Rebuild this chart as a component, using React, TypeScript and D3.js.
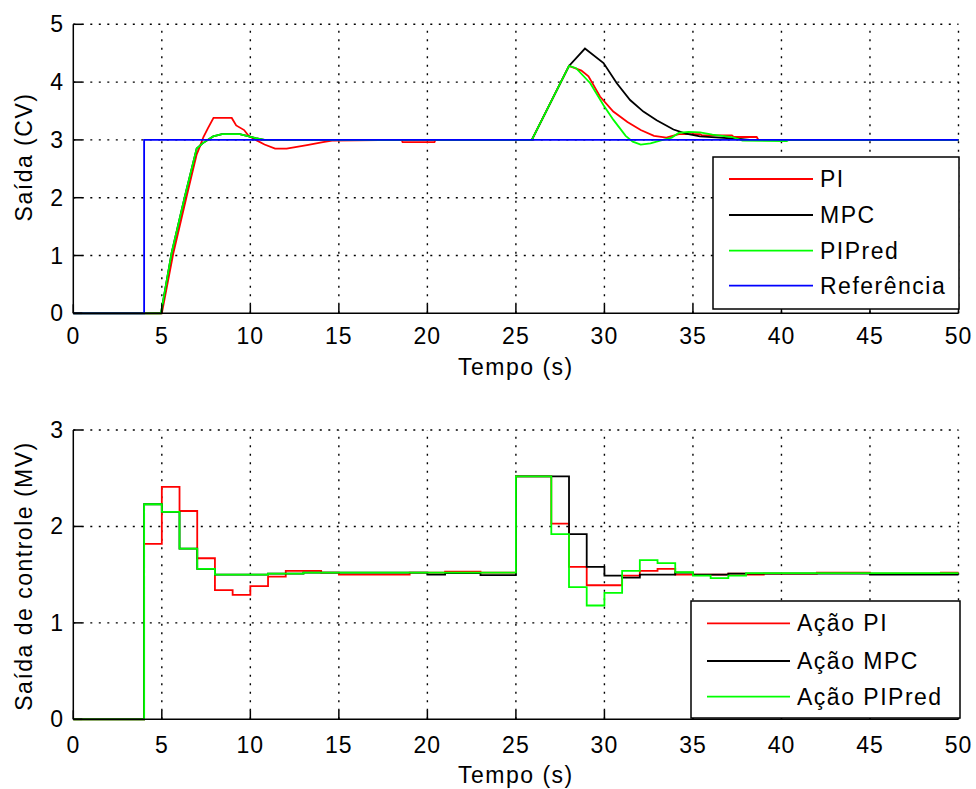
import React from "react";
import * as d3 from "d3";

// ---- Saída (CV): continuous responses ----
const piTime = [0, 5.0, 5.65, 6.4, 6.97, 7.17, 7.35, 7.6, 7.92, 8.95, 9.2, 9.65, 9.9, 10.3, 10.8, 11.4, 12.05, 13.2, 14.1, 14.7, 18.55, 18.6, 20.4, 20.45, 25.9, 28.0, 28.7, 29.1, 29.75, 30.5, 31.3, 32.05, 32.8, 33.5, 34.2, 35.4, 35.5, 37.2, 37.3, 38.6, 38.7, 50];
const piValue = [0, 0, 1.04, 2.02, 2.75, 2.9, 3.05, 3.2, 3.38, 3.38, 3.25, 3.17, 3.07, 3.0, 2.92, 2.85, 2.85, 2.91, 2.96, 2.99, 3.0, 2.96, 2.96, 3.0, 3.0, 4.28, 4.2, 4.1, 3.75, 3.49, 3.31, 3.17, 3.07, 3.04, 3.1, 3.1, 3.08, 3.08, 3.05, 3.05, 3.0, 3.0];

const mpcTime = [0, 4.95, 5.55, 6.3, 6.97, 7.3, 7.9, 8.4, 9.4, 9.8, 10.3, 10.8, 25.9, 28.0, 28.9, 29.95, 30.7, 31.45, 32.2, 32.95, 33.9, 34.6, 35.4, 36.5, 37.5, 38.2, 50];
const mpcValue = [0, 0, 1.04, 2.02, 2.85, 2.94, 3.06, 3.1, 3.1, 3.07, 3.03, 3.0, 3.0, 4.28, 4.58, 4.33, 3.98, 3.69, 3.49, 3.34, 3.18, 3.11, 3.06, 3.04, 3.02, 3.0, 3.0];

const predTime = [0, 4.95, 5.55, 6.3, 6.97, 7.3, 7.9, 8.4, 9.4, 9.8, 10.3, 10.8, 25.9, 28.0, 28.4, 29.2, 29.95, 30.5, 31.2, 31.6, 32.05, 32.6, 33.2, 33.8, 34.2, 34.75, 35.4, 36.1, 37.2, 37.8, 40.3, 40.4, 50];
const predValue = [0, 0, 1.04, 2.02, 2.85, 2.94, 3.06, 3.1, 3.1, 3.07, 3.03, 3.0, 3.0, 4.28, 4.24, 3.98, 3.6, 3.35, 3.07, 2.97, 2.92, 2.94, 2.99, 3.04, 3.12, 3.14, 3.13, 3.09, 3.05, 2.99, 2.98, 3.0, 3.0];

const refTime = [0, 4, 4, 50];
const refValue = [0, 0, 3, 3];

// ---- Saída de controle (MV): sampled control actions (held between samples) ----
const piMvTime = [0, 4, 5, 6, 7, 8, 9, 10, 11, 12, 14, 15, 19, 21, 23, 25, 27, 28, 29, 31, 32, 33, 34, 37, 38, 39, 42, 45, 49, 50];
const piMvValue = [0, 1.82, 2.41, 2.16, 1.67, 1.34, 1.29, 1.38, 1.48, 1.54, 1.52, 1.5, 1.52, 1.53, 1.52, 2.52, 2.03, 1.58, 1.39, 1.49, 1.54, 1.56, 1.5, 1.51, 1.5, 1.51, 1.52, 1.51, 1.52, 1.52];

const mpcMvTime = [0, 4, 5, 6, 7, 8, 11, 13, 20, 21, 23, 25, 28, 29, 30, 31, 32, 34, 35, 37, 45, 50];
const mpcMvValue = [0, 2.23, 2.15, 1.77, 1.56, 1.5, 1.51, 1.52, 1.5, 1.515, 1.495, 2.52, 1.92, 1.58, 1.49, 1.47, 1.5, 1.52, 1.5, 1.51, 1.5, 1.5];

const predMvTime = [0, 4, 5, 6, 7, 8, 11, 13, 25, 27, 28, 29, 30, 31, 32, 33, 34, 35, 36, 37, 38, 50];
const predMvValue = [0, 2.23, 2.15, 1.77, 1.56, 1.5, 1.51, 1.52, 2.52, 1.92, 1.37, 1.18, 1.31, 1.54, 1.65, 1.62, 1.525, 1.49, 1.465, 1.49, 1.515, 1.515];

const xTicks = [0, 5, 10, 15, 20, 25, 30, 35, 40, 45, 50];
const cvTicks = [0, 1, 2, 3, 4, 5];
const mvTicks = [0, 1, 2, 3];

const cvLegend = ["PI", "MPC", "PIPred", "Referência"];
const mvLegend = ["Ação PI", "Ação MPC", "Ação PIPred"];

const RED = "#ff0000";
const BLACK = "#000000";
const GREEN = "#00ff00";
const BLUE = "#0000ff";
const FONT = "'Liberation Sans', Arial, sans-serif";

const zip = (t: number[], v: number[]) => t.map((x, i) => [x, v[i]] as [number, number]);

const X0 = 73.3;
const X1 = 958.5;

function Panel(props: {
  top: number;
  bottom: number;
  yMax: number;
  yTicks: number[];
  yLabel: string;
  yLabelCenter: number;
  series: { data: [number, number][]; color: string }[];
  step: boolean;
  legend: string[];
  legendColors: string[];
  legendBox: [number, number, number, number];
  legendLine: [number, number];
  legendText: number;
  legendRows: number[];
  tickLabelY: number;
  xLabelY: number;
}) {
  const x = d3.scaleLinear().domain([0, 50]).range([X0, X1]);
  const y = d3.scaleLinear().domain([0, props.yMax]).range([props.bottom, props.top]);
  const line = d3
    .line<[number, number]>()
    .x((d) => x(d[0]))
    .y((d) => y(d[1]))
    .curve(props.step ? d3.curveStepAfter : d3.curveLinear);
  const [lx0, ly0, lx1, ly1] = props.legendBox;
  const tickLen = 9;
  const grid = "2,6.5";
  return (
    <g>
      {/* grid */}
      {xTicks.slice(1).map((t) => (
        <line key={"gx" + t} x1={x(t)} x2={x(t)} y1={props.bottom} y2={props.top} stroke="#000" strokeWidth={1.4} strokeDasharray={grid} />
      ))}
      {props.yTicks.slice(1).map((t) => (
        <line key={"gy" + t} x1={X0} x2={X1} y1={y(t)} y2={y(t)} stroke="#000" strokeWidth={1.4} strokeDasharray={grid} />
      ))}
      {/* data */}
      {props.series.map((s, i) => (
        <path key={i} d={line(s.data) || ""} fill="none" stroke={s.color} strokeWidth={1.8} strokeLinejoin="miter" />
      ))}
      {/* axes */}
      <line x1={X0} x2={X0} y1={props.top} y2={props.bottom} stroke="#000" strokeWidth={1.5} />
      <line x1={X0} x2={X1} y1={props.bottom} y2={props.bottom} stroke="#000" strokeWidth={1.5} />
      {xTicks.map((t) => (
        <g key={"tx" + t}>
          <line x1={x(t)} x2={x(t)} y1={props.bottom} y2={props.bottom - tickLen} stroke="#000" strokeWidth={1.5} />
          <text x={x(t)} y={props.tickLabelY} textAnchor="middle" fontSize={23} fontFamily={FONT} letterSpacing={1}>
            {t}
          </text>
        </g>
      ))}
      {props.yTicks.map((t) => (
        <g key={"ty" + t}>
          <line x1={X0} x2={X0 + tickLen} y1={y(t)} y2={y(t)} stroke="#000" strokeWidth={1.5} />
          <text x={63} y={y(t) + 8} textAnchor="end" fontSize={23} fontFamily={FONT}>
            {t}
          </text>
        </g>
      ))}
      <text x={(X0 + X1) / 2} y={props.xLabelY} textAnchor="middle" fontSize={23} fontFamily={FONT} letterSpacing={1.5}>
        Tempo (s)
      </text>
      <text
        transform={`translate(32, ${props.yLabelCenter}) rotate(-90)`}
        textAnchor="middle"
        fontSize={23}
        fontFamily={FONT}
        letterSpacing={1.5}
      >
        {props.yLabel}
      </text>
      {/* legend */}
      <rect x={lx0} y={ly0} width={lx1 - lx0} height={ly1 - ly0} fill="#fff" stroke="#000" strokeWidth={1.5} />
      {props.legend.map((name, i) => (
        <g key={name}>
          <line
            x1={props.legendLine[0]}
            x2={props.legendLine[1]}
            y1={props.legendRows[i]}
            y2={props.legendRows[i]}
            stroke={props.legendColors[i]}
            strokeWidth={1.8}
          />
          <text x={props.legendText} y={props.legendRows[i] + 8} fontSize={23} fontFamily={FONT} letterSpacing={1.5}>
            {name}
          </text>
        </g>
      ))}
    </g>
  );
}

export default function App() {
  return (
    <svg
      width={976}
      height={789}
      style={{ position: "absolute", left: 0, top: 0, background: "#fff" }}
    >
      <rect width={976} height={789} fill="#fff" />
      <Panel
        top={24.3}
        bottom={313.3}
        yMax={5}
        yTicks={cvTicks}
        yLabel="Saída (CV)"
        yLabelCenter={157}
        series={[
          { data: zip(piTime, piValue), color: RED },
          { data: zip(mpcTime, mpcValue), color: BLACK },
          { data: zip(predTime, predValue), color: GREEN },
          { data: zip(refTime, refValue), color: BLUE },
        ]}
        step={false}
        legend={cvLegend}
        legendColors={[RED, BLACK, GREEN, BLUE]}
        legendBox={[713, 157, 959, 309]}
        legendLine={[729, 813]}
        legendText={820}
        legendRows={[179, 215, 250.7, 285.7]}
        tickLabelY={344}
        xLabelY={375}
      />
      <Panel
        top={430}
        bottom={719.3}
        yMax={3}
        yTicks={mvTicks}
        yLabel="Saída de controle (MV)"
        yLabelCenter={576}
        series={[
          { data: zip(piMvTime, piMvValue), color: RED },
          { data: zip(mpcMvTime, mpcMvValue), color: BLACK },
          { data: zip(predMvTime, predMvValue), color: GREEN },
        ]}
        step={true}
        legend={mvLegend}
        legendColors={[RED, BLACK, GREEN]}
        legendBox={[691, 601, 960, 718]}
        legendLine={[707, 790]}
        legendText={797}
        legendRows={[623.3, 661, 696.7]}
        tickLabelY={753}
        xLabelY={783}
      />
    </svg>
  );
}
